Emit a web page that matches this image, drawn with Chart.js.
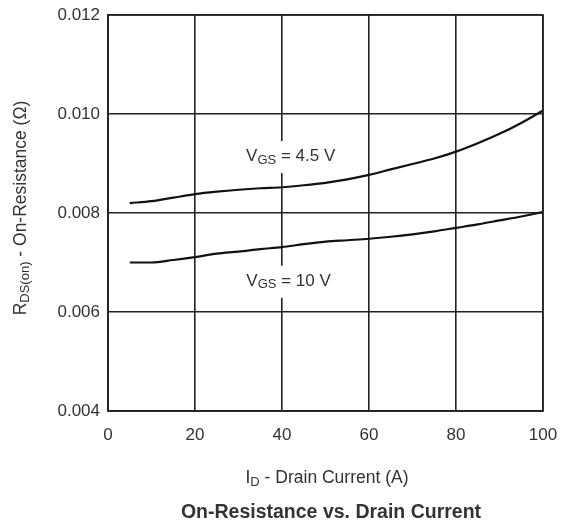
<!DOCTYPE html>
<html>
<head>
<meta charset="utf-8">
<script src="https://cdn.jsdelivr.net/npm/chart.js@4.4.1/dist/chart.umd.min.js"></script>
<style>
  html, body { margin: 0; padding: 0; background: #fff; }
  #wrap { width: 566px; height: 528px; position: relative; }
</style>
</head>
<body>
<div id="wrap"><canvas id="c" width="566" height="528"></canvas></div>
<script>
// Data
const drainCurrent = [5, 10, 15, 20, 25, 30, 35, 40, 45, 50, 55, 60, 65, 70, 75, 80, 85, 90, 95, 100];
const rdsVgs45 = [0.00820, 0.00824, 0.00831, 0.00838, 0.00843, 0.00847, 0.00850, 0.00852, 0.00856, 0.00861, 0.00868, 0.00877, 0.00888, 0.00899, 0.00910, 0.00924, 0.00941, 0.00960, 0.00982, 0.01007];
const rdsVgs10 = [0.00700, 0.00700, 0.00705, 0.00711, 0.00718, 0.00722, 0.00727, 0.00731, 0.00737, 0.00742, 0.00745, 0.00748, 0.00752, 0.00757, 0.00763, 0.00770, 0.00777, 0.00785, 0.00793, 0.00802];
const xTicks = [0, 20, 40, 60, 80, 100];
const yTicks = [0.004, 0.006, 0.008, 0.010, 0.012];
const seriesNames = ['VGS = 4.5 V', 'VGS = 10 V'];

const FONT = '"Liberation Sans", Arial, Helvetica, sans-serif';
const TXT = '#333';

function drawParts(ctx, parts, x, y, align) {
  // parts: [text, size, bold, dy]
  let total = 0;
  parts.forEach(p => { ctx.font = (p[2] ? 'bold ' : '') + p[1] + 'px ' + FONT; total += ctx.measureText(p[0]).width; });
  let cx = align === 'center' ? x - total / 2 : x;
  parts.forEach(p => {
    ctx.font = (p[2] ? 'bold ' : '') + p[1] + 'px ' + FONT;
    ctx.fillText(p[0], cx, y + (p[3] || 0));
    cx += ctx.measureText(p[0]).width;
  });
  return total;
}

const textPlugin = {
  id: 'textPlugin',
  afterDatasetsDraw(chart) {
    const ctx = chart.ctx;
    const xs = chart.scales.x, ys = chart.scales.y;
    ctx.save();
    ctx.fillStyle = TXT;
    ctx.textBaseline = 'middle';
    ctx.textAlign = 'left';
    // curve labels with white boxes
    const labels = [
      { x: 42, y: 0.00915, parts: [['V', 17], ['GS', 13, false, 4], [' = 4.5 V', 17]] },
      { x: 41.5, y: 0.00663, parts: [['V', 17], ['GS', 13, false, 4], [' = 10 V', 17]] }
    ];
    labels.forEach(l => {
      const px = xs.getPixelForValue(l.x), py = ys.getPixelForValue(l.y);
      let w = 0;
      l.parts.forEach(p => { ctx.font = p[1] + 'px ' + FONT; w += ctx.measureText(p[0]).width; });
      ctx.fillStyle = '#fff';
      ctx.fillRect(px - w / 2 - 3, py - 15, w + 6, 32);
      ctx.fillStyle = TXT;
      drawParts(ctx, l.parts, px, py, 'center');
    });
    ctx.restore();
  },
  afterDraw(chart) {
    const ctx = chart.ctx;
    ctx.save();
    ctx.fillStyle = TXT;
    ctx.textBaseline = 'middle';
    ctx.textAlign = 'left';
    // x axis title
    drawParts(ctx, [['I', 17.5], ['D', 13, false, 4], [' - Drain Current (A)', 17.5]], 327, 478, 'center');
    // chart title
    drawParts(ctx, [['On-Resistance vs. Drain Current', 19.5, true]], 331, 513, 'center');
    // y axis title
    ctx.translate(21, 208);
    ctx.rotate(-Math.PI / 2);
    drawParts(ctx, [['R', 17.5], ['DS(on)', 13, false, 4], [' - On-Resistance (\u03A9)', 17.5]], 0, 0, 'center');
    ctx.restore();
  }
};

new Chart(document.getElementById('c'), {
  type: 'line',
  data: {
    labels: drainCurrent,
    datasets: [
      { label: seriesNames[0], data: drainCurrent.map((x, i) => ({ x, y: rdsVgs45[i] })) },
      { label: seriesNames[1], data: drainCurrent.map((x, i) => ({ x, y: rdsVgs10[i] })) }
    ].map(d => Object.assign(d, { borderColor: '#111', borderWidth: 2.2, pointRadius: 0, cubicInterpolationMode: 'monotone', fill: false }))
  },
  options: {
    responsive: false,
    animation: false,
    devicePixelRatio: 1,
    layout: { padding: { left: 0, top: 15, right: 23, bottom: 0 } },
    plugins: { legend: { display: false }, tooltip: { enabled: false }, title: { display: false } },
    scales: {
      x: {
        type: 'linear', min: 0, max: 100,
        afterBuildTicks: s => { s.ticks = xTicks.map(v => ({ value: v })); },
        afterFit: s => { s.height = 117; s.paddingLeft = 0; s.paddingRight = 0; },
        grid: { color: '#222', lineWidth: 1.6, drawTicks: false },
        border: { color: '#222', width: 1.6 },
        ticks: { padding: 14, color: TXT, font: { family: FONT, size: 17 } }
      },
      y: {
        type: 'linear', min: 0.004, max: 0.012,
        afterBuildTicks: s => { s.ticks = yTicks.map(v => ({ value: v })); },
        afterFit: s => { s.width = 108; s.paddingTop = 0; s.paddingBottom = 0; },
        grid: { color: '#222', lineWidth: 1.6, drawTicks: false },
        border: { color: '#222', width: 1.6 },
        ticks: { padding: 8, color: TXT, font: { family: FONT, size: 17 }, callback: v => v.toFixed(3) }
      }
    }
  },
  plugins: [textPlugin, {
    id: 'frame',
    afterDatasetsDraw(chart) {
      const { ctx, chartArea: a } = chart;
      ctx.save();
      ctx.strokeStyle = '#222';
      ctx.lineWidth = 1.6;
      ctx.strokeRect(a.left, a.top, a.right - a.left, a.bottom - a.top);
      ctx.restore();
    }
  }]
});
</script>
</body>
</html>
